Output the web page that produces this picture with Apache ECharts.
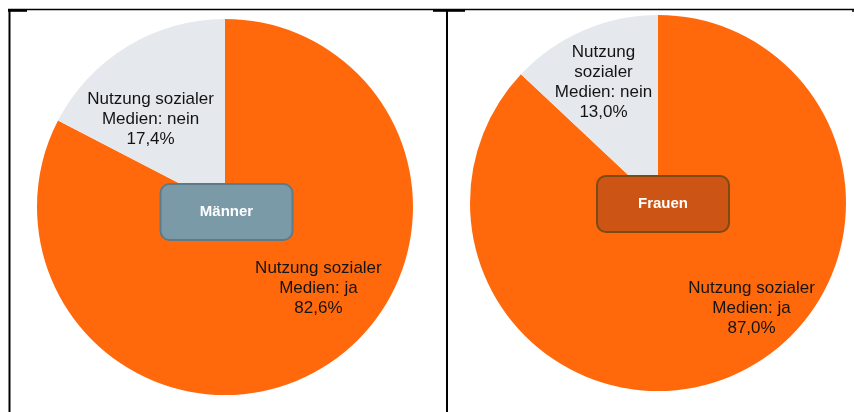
<!DOCTYPE html>
<html>
<head>
<meta charset="utf-8">
<script src="https://cdn.jsdelivr.net/npm/echarts@6/dist/echarts.min.js"></script>
<style>
  html, body { margin: 0; padding: 0; background: #ffffff; }
  #chart { width: 854px; height: 412px; }
</style>
</head>
<body>
<div id="chart"></div>
<script>
// Social media use by gender (share of respondents, %)
const categories = ['Nutzung sozialer Medien: ja', 'Nutzung sozialer Medien: nein'];
const groups = ['Männer', 'Frauen'];
const valuesMaenner = [82.6, 17.4];
const valuesFrauen = [87.0, 13.0];

// Label texts as printed next to each slice
const labelTextsMaenner = ['Nutzung sozialer\nMedien: ja', 'Nutzung sozialer\nMedien: nein'];
const labelTextsFrauen = ['Nutzung sozialer\nMedien: ja', 'Nutzung\nsozialer\nMedien: nein'];

const sliceColors = ['#FF690B', '#E5E9EE'];

function fmt(v) {
  return v.toFixed(1).replace('.', ',') + '%';
}

function buildData(values, texts) {
  return values.map((v, i) => ({
    name: categories[i],
    value: v,
    labelText: texts[i],
    itemStyle: { color: sliceColors[i] }
  }));
}

// Offsets of the labels relative to the default inside position
const labelOffsets = [
  [[43, -2], [-24, -5]],
  [[55, 16], [-16, -32]]
];

const chart = echarts.init(document.getElementById('chart'), null, { renderer: 'canvas' });

function pieSeries(idx, values, texts, center) {
  return {
    type: 'pie',
    name: groups[idx],
    center: center,
    radius: 188,
    startAngle: 90,
    clockwise: true,
    silent: true,
    animation: false,
    itemStyle: { borderWidth: 0 },
    label: {
      show: true,
      position: 'inside',
      color: '#141414',
      fontFamily: 'Liberation Sans, Arial, sans-serif',
      fontSize: 17,
      lineHeight: 20,
      align: 'center',
      formatter: p => p.data.labelText + '\n' + fmt(p.value)
    },
    labelLine: { show: false },
    labelLayout: function (params) {
      const o = labelOffsets[idx][params.dataIndex];
      return { dx: o[0], dy: o[1] };
    },
    data: buildData(values, texts)
  };
}

function tagBox(cx, cy, text, fill, stroke) {
  return {
    type: 'group',
    children: [
      {
        type: 'rect',
        shape: { x: cx - 66, y: cy - 28, width: 132, height: 56, r: 9 },
        style: { fill: fill, stroke: stroke, lineWidth: 2 },
        z: 10
      },
      {
        type: 'text',
        x: cx,
        y: cy,
        style: {
          text: text,
          fill: '#ffffff',
          font: 'bold 15px "Liberation Sans", Arial, sans-serif',
          align: 'center',
          verticalAlign: 'middle'
        },
        z: 11
      }
    ]
  };
}

function line(x1, y1, x2, y2, w) {
  return {
    type: 'line',
    shape: { x1: x1, y1: y1, x2: x2, y2: y2 },
    style: { stroke: '#000000', lineWidth: w },
    z: 20
  };
}

chart.setOption({
  backgroundColor: '#ffffff',
  animation: false,
  series: [
    pieSeries(0, valuesMaenner, labelTextsMaenner, [225, 207]),
    pieSeries(1, valuesFrauen, labelTextsFrauen, [658, 203])
  ],
  graphic: [
    tagBox(226.5, 212, groups[0], '#7A9AA8', '#5E7A88'),
    tagBox(663, 204, groups[1], '#CC5515', '#7C4A12'),
    // panel frame
    line(8, 9.5, 854, 9.5, 1.6),
    line(8, 10.8, 27, 10.8, 2),
    line(433, 10.8, 465, 10.8, 2),
    line(9.5, 9, 9.5, 412, 2),
    line(447, 9, 447, 412, 2),
    line(853, 9, 853, 12, 1.5)
  ]
});
</script>
</body>
</html>
